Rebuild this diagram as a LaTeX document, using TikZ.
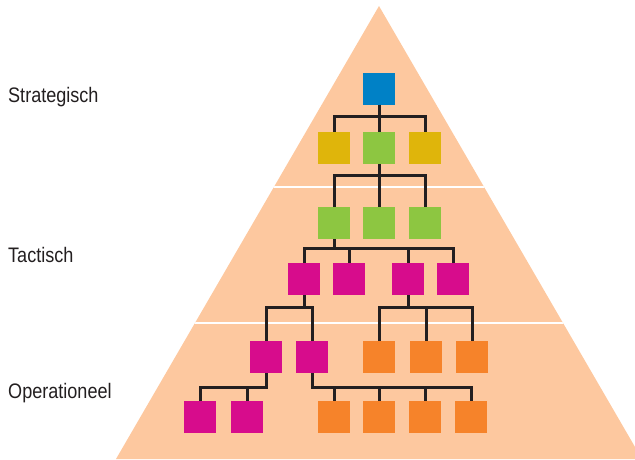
\documentclass[tikz,border=0pt]{standalone}
\usepackage{fontspec}
\setmainfont[FakeStretch=0.86]{Liberation Sans}
\usetikzlibrary{positioning}

\definecolor{peach}{HTML}{FDC89F}
\definecolor{lvlblue}{HTML}{0081C6}
\definecolor{lvlgold}{HTML}{DFB50B}
\definecolor{lvllime}{HTML}{8DC641}
\definecolor{lvlmagenta}{HTML}{D70C8C}
\definecolor{lvlorange}{HTML}{F6832A}
\definecolor{ink}{HTML}{231F20}

\tikzset{
    unit/.style={minimum size=32pt, inner sep=0pt, draw=none, fill=#1},
    link/.style={draw=ink, line width=3pt},
    level/.style={anchor=base west, inner sep=0pt, font=\fontsize{21}{25}\selectfont, text=ink}
}

\begin{document}
\begin{tikzpicture}[x=1pt, y=-1pt]
        \useasboundingbox (0,0) rectangle (635,459);

        % pyramid with its two dividers
        \begin{scope}
            \clip (0,0) rectangle (635,459);
            \fill[peach] (379,6) -- (116,459) -- (642,459) -- cycle;
            \clip (379,6) -- (116,459) -- (642,459) -- cycle;
            \draw[white, line width=1.5pt] (0,187) -- (635,187);
            \draw[white, line width=1.5pt] (0,323) -- (635,323);
        \end{scope}

        \node[level] (strat) at (8,102) {Strategisch};
        \node[level] (tact) at (8,262) {Tactisch};
        \node[level] (oper) at (8,398) {Operationeel};

        % boxes, row by row
        \node[unit=lvlblue] (s0) at (379,88.5) {};

        \node[unit=lvlgold] (s1) at (334,148) {};
        \node[unit=lvllime] (s2) at (379,148) {};
        \node[unit=lvlgold] (s3) at (425,148) {};

        \node[unit=lvllime] (t1) at (334,223) {};
        \node[unit=lvllime] (t2) at (379,223) {};
        \node[unit=lvllime] (t3) at (425,223) {};

        \node[unit=lvlmagenta] (u1) at (304,279) {};
        \node[unit=lvlmagenta] (u2) at (349,279) {};
        \node[unit=lvlmagenta] (u3) at (408,279) {};
        \node[unit=lvlmagenta] (u4) at (453,279) {};

        \node[unit=lvlmagenta] (v1) at (266,357) {};
        \node[unit=lvlmagenta] (v2) at (312,357) {};
        \node[unit=lvlorange] (v3) at (379,357) {};
        \node[unit=lvlorange] (v4) at (426,357) {};
        \node[unit=lvlorange] (v5) at (472,357) {};

        \node[unit=lvlmagenta] (w1) at (200,417) {};
        \node[unit=lvlmagenta] (w2) at (247,417) {};
        \node[unit=lvlorange] (w3) at (334,417) {};
        \node[unit=lvlorange] (w4) at (379,417) {};
        \node[unit=lvlorange] (w5) at (425,417) {};
        \node[unit=lvlorange] (w6) at (471,417) {};

        % connectors
        \draw[link] (s0.south) -- (s2.north);
        \draw[link] (s1.north) -- ++(0,-15) -| (s3.north);

        \draw[link] (s2.south) -- (t2.north);
        \draw[link] (t1.north) -- ++(0,-31) -| (t3.north);

        \draw[link] (t1.south) -- ++(0,10);
        \draw[link] (u1.north) -- ++(0,-14) -| (u4.north);
        \draw[link] (u2.north) -- ++(0,-14);
        \draw[link] (u3.north) -- ++(0,-14);

        \draw[link] (u1.south) -- ++(0,13);
        \draw[link] (v1.north) -- ++(0,-33) -| (v2.north);
        \draw[link] (u3.south) -- ++(0,13);
        \draw[link] (v3.north) -- ++(0,-33) -| (v5.north);
        \draw[link] (v4.north) -- ++(0,-33);

        \draw[link] (v1.south) -- ++(0,14) -| (w1.north);
        \draw[link] (w2.north) -- ++(0,-14);
        \draw[link] (v2.south) -- ++(0,14) -| (w6.north);
        \draw[link] (w3.north) -- ++(0,-14);
        \draw[link] (w4.north) -- ++(0,-14);
        \draw[link] (w5.north) -- ++(0,-14);

\end{tikzpicture}
\end{document}
